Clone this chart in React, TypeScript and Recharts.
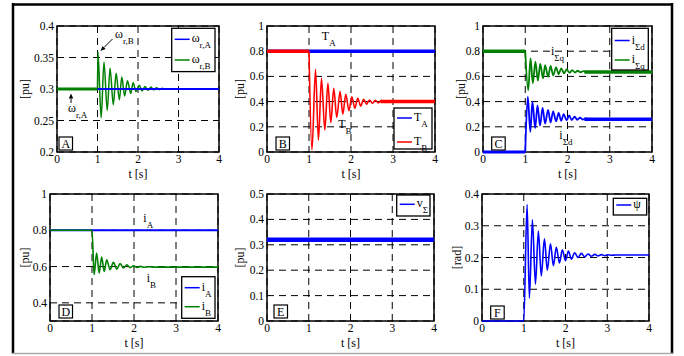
import {
  CartesianGrid,
  Line,
  LineChart,
  ReferenceArea,
  ReferenceDot,
  XAxis,
  YAxis,
} from "recharts";

const FONT = '"Liberation Serif", "Times New Roman", Times, serif';
const BLUE = "#0000ff";
const GREEN = "#008000";
const RED = "#ff0000";

type Pt = [number, number];

const timeTicks = [0, 1, 2, 3, 4];

// A: rotor speeds
const omegaA: Pt[] = [[0, 0.3], [4, 0.3]];
const omegaBPre: Pt[] = [[0, 0.3], [1, 0.3]];
const omegaBOsc: Pt[] = [
  [1, 0.3], [1.01, 0.359], [1.09, 0.254], [1.16, 0.343], [1.24, 0.266], [1.31, 0.333],
  [1.39, 0.275], [1.46, 0.325], [1.54, 0.283], [1.6, 0.319], [1.67, 0.289], [1.74, 0.313],
  [1.82, 0.293], [1.88, 0.31], [1.95, 0.296], [2.03, 0.306], [2.1, 0.297], [2.17, 0.304],
  [2.25, 0.298], [2.32, 0.303], [2.39, 0.2985], [2.46, 0.302], [2.53, 0.299], [2.6, 0.301],
  [2.68, 0.2995], [2.8, 0.3], [4, 0.3],
];

// B: torques
const torqueA: Pt[] = [[0, 0.8], [4, 0.8]];
const torqueBPre: Pt[] = [[0, 0.8], [1, 0.8]];
const torqueBOsc: Pt[] = [
  [1, 0.8], [1.07, 0.016], [1.155, 0.656], [1.225, 0.095], [1.297, 0.585], [1.377, 0.175],
  [1.45, 0.545], [1.52, 0.233], [1.59, 0.505], [1.66, 0.275], [1.74, 0.479], [1.805, 0.3],
  [1.876, 0.458], [1.95, 0.328], [2.02, 0.439], [2.09, 0.347], [2.16, 0.426], [2.23, 0.365],
  [2.3, 0.418], [2.37, 0.38], [2.44, 0.413], [2.51, 0.387], [2.58, 0.41], [2.65, 0.39],
  [2.72, 0.408], [2.79, 0.394], [2.86, 0.405], [2.93, 0.397], [3.0, 0.401],
];
const torqueBPost: Pt[] = [[2.7, 0.4], [4, 0.4]];

// C: sum currents d/q
const iSqPre: Pt[] = [[0, 0.8], [1, 0.8]];
const iSqOsc: Pt[] = [
  [1, 0.8], [1.07, 0.49], [1.125, 0.743], [1.18, 0.545], [1.24, 0.717], [1.3, 0.566],
  [1.355, 0.7], [1.42, 0.585], [1.47, 0.69], [1.54, 0.598], [1.6, 0.683], [1.66, 0.608],
  [1.73, 0.672], [1.79, 0.617], [1.85, 0.664], [1.92, 0.625], [1.98, 0.655], [2.05, 0.628],
  [2.11, 0.65], [2.18, 0.631], [2.24, 0.645], [2.31, 0.633], [2.37, 0.642], [2.44, 0.635],
  [2.5, 0.637],
];
const iSqPost: Pt[] = [[2.4, 0.635], [4, 0.635]];
const iSdPre: Pt[] = [[0, 0], [1, 0]];
const iSdOsc: Pt[] = [
  [1, 0], [1.06, 0.44], [1.12, 0.16], [1.17, 0.4], [1.235, 0.19], [1.29, 0.37],
  [1.35, 0.21], [1.41, 0.35], [1.47, 0.225], [1.54, 0.335], [1.6, 0.235], [1.66, 0.322],
  [1.73, 0.243], [1.79, 0.31], [1.85, 0.248], [1.91, 0.3], [1.98, 0.252], [2.04, 0.29],
  [2.1, 0.254], [2.17, 0.28], [2.23, 0.256], [2.3, 0.272], [2.36, 0.258], [2.43, 0.266],
  [2.5, 0.26],
];
const iSdPost: Pt[] = [[2.4, 0.26], [4, 0.26]];

// D: machine currents
const currentA: Pt[] = [[0, 0.8], [4, 0.8]];
const currentB: Pt[] = [
  [0, 0.8], [1, 0.8], [1.05, 0.555], [1.11, 0.675], [1.17, 0.564], [1.23, 0.653],
  [1.29, 0.573], [1.35, 0.638], [1.43, 0.583], [1.51, 0.623], [1.59, 0.586], [1.67, 0.616],
  [1.75, 0.592], [1.83, 0.61], [1.91, 0.594], [1.99, 0.604], [2.07, 0.595], [2.15, 0.601],
  [2.23, 0.596], [2.35, 0.599], [2.5, 0.597], [4, 0.597],
];

// E: sum voltage
const vSigma: Pt[] = [[0, 0.32], [4, 0.32]];

// F: angle
const psi: Pt[] = [
  [0, 0], [1, 0], [1.08, 0.367], [1.135, 0.072], [1.207, 0.319], [1.28, 0.116],
  [1.35, 0.283], [1.42, 0.142], [1.495, 0.259], [1.565, 0.16], [1.64, 0.243], [1.71, 0.174],
  [1.78, 0.232], [1.855, 0.183], [1.925, 0.224], [2.0, 0.19], [2.07, 0.22], [2.14, 0.195],
  [2.22, 0.215], [2.3, 0.2], [2.38, 0.213], [2.46, 0.202], [2.54, 0.211], [2.62, 0.204],
  [2.7, 0.21], [2.78, 0.205], [2.86, 0.209], [2.94, 0.206], [3.02, 0.2085], [3.1, 0.207],
  [3.2, 0.208], [4, 0.208],
];

type Series = { data: Pt[]; color: string; width: number };
type Ann = { t: number; v: number; main: string; sub: string };
type Arrow = { t: number; v: number; dx: number; dy: number };
type Row = { y: number; color: string; main: string; sub: string };
type PanelCfg = {
  tag: string;
  plot: [number, number, number, number];
  tagPos: [number, number];
  domain: [number, number];
  ticks: number[];
  ylabel: string;
  ylabelGap: number;
  series: Series[];
  anns: Ann[];
  arrows: Arrow[];
  legend: { x: number; y: number; w: number; h: number; rows: Row[] };
};

const ML = 48;
const MR = 10;
const MT = 10;
const MB = 32;

const panels: PanelCfg[] = [
  {
    tag: "A",
    plot: [57, 26, 219, 152],
    tagPos: [59, 137],
    domain: [0.2, 0.4],
    ticks: [0.2, 0.25, 0.3, 0.35, 0.4],
    ylabel: "[pu]",
    ylabelGap: 32,
    series: [
      { data: omegaBOsc, color: GREEN, width: 1.5 },
      { data: omegaA, color: BLUE, width: 2 },
      { data: omegaBPre, color: GREEN, width: 2.8 },
    ],
    anns: [
      { t: 1.432, v: 0.3805, main: "ω", sub: "r,B" },
      { t: 0.272, v: 0.2635, main: "ω", sub: "r,A" },
    ],
    arrows: [
      { t: 1.074, v: 0.3603, dx: 12, dy: -12 },
      { t: 0.346, v: 0.2929, dx: 0, dy: 9.5 },
    ],
    legend: {
      x: 171.7, y: 28.3, w: 43.3, h: 43.3,
      rows: [
        { y: 39.3, color: BLUE, main: "ω", sub: "r,A" },
        { y: 60, color: GREEN, main: "ω", sub: "r,B" },
      ],
    },
  },
  {
    tag: "B",
    plot: [267, 26, 435, 152],
    tagPos: [276, 137],
    domain: [0, 1],
    ticks: [0, 0.2, 0.4, 0.6, 0.8, 1],
    ylabel: "[pu]",
    ylabelGap: 27,
    series: [
      { data: torqueA, color: BLUE, width: 3.5 },
      { data: torqueBPre, color: RED, width: 3.5 },
      { data: torqueBOsc, color: RED, width: 1.6 },
      { data: torqueBPost, color: RED, width: 3.5 },
    ],
    anns: [
      { t: 1.306, v: 0.889, main: "T", sub: "A" },
      { t: 1.694, v: 0.19, main: "T", sub: "B" },
    ],
    arrows: [],
    legend: {
      x: 394, y: 108, w: 38, h: 41,
      rows: [
        { y: 118, color: BLUE, main: "T", sub: "A" },
        { y: 142, color: RED, main: "T", sub: "B" },
      ],
    },
  },
  {
    tag: "C",
    plot: [483, 26, 652, 152],
    tagPos: [491.7, 137],
    domain: [0, 1],
    ticks: [0, 0.2, 0.4, 0.6, 0.8, 1],
    ylabel: "[pu]",
    ylabelGap: 22.5,
    series: [
      { data: iSqPre, color: GREEN, width: 3.5 },
      { data: iSqOsc, color: GREEN, width: 1.8 },
      { data: iSqPost, color: GREEN, width: 3.5 },
      { data: iSdPre, color: BLUE, width: 3 },
      { data: iSdOsc, color: BLUE, width: 1.8 },
      { data: iSdPost, color: BLUE, width: 3.5 },
    ],
    anns: [
      { t: 1.609, v: 0.77, main: "i", sub: "Σq" },
      { t: 1.806, v: 0.101, main: "i", sub: "Σd" },
    ],
    arrows: [],
    legend: {
      x: 611.7, y: 28.3, w: 36.6, h: 41.7,
      rows: [
        { y: 40.5, color: BLUE, main: "i", sub: "Σd" },
        { y: 60, color: GREEN, main: "i", sub: "Σq" },
      ],
    },
  },
  {
    tag: "D",
    plot: [50, 194, 218, 321],
    tagPos: [59, 305],
    domain: [0.3, 1],
    ticks: [0.4, 0.6, 0.8, 1],
    ylabel: "[pu]",
    ylabelGap: 25,
    series: [
      { data: currentA, color: BLUE, width: 2 },
      { data: currentB, color: GREEN, width: 1.6 },
    ],
    anns: [
      { t: 2.221, v: 0.847, main: "i", sub: "A" },
      { t: 2.302, v: 0.517, main: "i", sub: "B" },
    ],
    arrows: [],
    legend: {
      x: 181.7, y: 276.7, w: 33.3, h: 41.6,
      rows: [
        { y: 287.7, color: BLUE, main: "i", sub: "A" },
        { y: 306.7, color: GREEN, main: "i", sub: "B" },
      ],
    },
  },
  {
    tag: "E",
    plot: [267, 194, 434, 321],
    tagPos: [274, 305],
    domain: [0, 0.5],
    ticks: [0, 0.1, 0.2, 0.3, 0.4, 0.5],
    ylabel: "[pu]",
    ylabelGap: 27,
    series: [{ data: vSigma, color: BLUE, width: 4.5 }],
    anns: [],
    arrows: [],
    legend: {
      x: 396.7, y: 195, w: 33.3, h: 21,
      rows: [{ y: 204.3, color: BLUE, main: "v", sub: "Σ" }],
    },
  },
  {
    tag: "F",
    plot: [482, 194, 649, 321],
    tagPos: [490.7, 306],
    domain: [0, 0.4],
    ticks: [0, 0.1, 0.2, 0.3, 0.4],
    ylabel: "[rad]",
    ylabelGap: 25,
    series: [{ data: psi, color: BLUE, width: 1.6 }],
    anns: [],
    arrows: [],
    legend: {
      x: 613.3, y: 198.3, w: 33.4, h: 16.7,
      rows: [{ y: 205, color: BLUE, main: "ψ", sub: "" }],
    },
  },
];

const toRows = (pts: Pt[]) => pts.map(([t, v]) => ({ t, v }));

const tickStyle = { fill: "#000", fontSize: 11.5, fontFamily: FONT };

function annShape(main: string, sub: string) {
  return (p: any) => (
    <text x={p.cx} y={p.cy} fontFamily={FONT} fontSize={12} fill="#000">
      {main}
      <tspan dy={6} fontSize={9}>
        {sub}
      </tspan>
    </text>
  );
}

function arrowShape(dx: number, dy: number) {
  return (p: any) => {
    const { cx, cy } = p;
    const len = Math.hypot(dx, dy);
    const ux = dx / len;
    const uy = dy / len;
    const bx = cx + ux * 5;
    const by = cy + uy * 5;
    const pts = `${cx},${cy} ${bx - uy * 2.2},${by + ux * 2.2} ${bx + uy * 2.2},${by - ux * 2.2}`;
    return (
      <g>
        <line x1={cx + dx} y1={cy + dy} x2={bx} y2={by} stroke="#000" strokeWidth={1} />
        <polygon points={pts} fill="#000" />
      </g>
    );
  };
}

function Panel({ cfg }: { cfg: PanelCfg }) {
  const [x0, y0, x1, y1] = cfg.plot;
  const pw = x1 - x0;
  const ph = y1 - y0;
  const lx = ML - cfg.ylabelGap;
  const ly = MT + ph / 2;
  return (
    <div style={{ position: "absolute", left: x0 - ML, top: y0 - MT }}>
      <LineChart
        width={pw + ML + MR}
        height={ph + MT + MB}
        margin={{ top: MT, right: MR, bottom: 0, left: 0 }}
      >
        <CartesianGrid stroke="#000" strokeDasharray="7 5" strokeWidth={1} />
        <XAxis
          type="number"
          dataKey="t"
          domain={[0, 4]}
          ticks={timeTicks}
          interval={0}
          axisLine={false}
          tickLine={false}
          tickSize={0}
          tickMargin={3}
          height={MB}
          tick={tickStyle}
          label={() => (
            <text x={ML + pw / 2} y={MT + ph + 26} textAnchor="middle" fontSize={12} fontFamily={FONT} fill="#000">
              t [s]
            </text>
          )}
        />
        <YAxis
          type="number"
          domain={cfg.domain}
          ticks={cfg.ticks}
          interval={0}
          axisLine={false}
          tickLine={false}
          tickSize={0}
          tickMargin={3}
          width={ML}
          tick={tickStyle}
          label={() => (
            <text
              x={lx}
              y={ly}
              transform={`rotate(-90 ${lx} ${ly})`}
              textAnchor="middle"
              dominantBaseline="central"
              fontSize={12}
              fontFamily={FONT}
              fill="#000"
            >
              {cfg.ylabel}
            </text>
          )}
        />
        <ReferenceArea
          x1={0}
          x2={4}
          y1={cfg.domain[0]}
          y2={cfg.domain[1]}
          fill="none"
          stroke="#000"
          strokeWidth={1.5}
          ifOverflow="visible"
        />
        {cfg.series.map((s, i) => (
          <Line
            key={i}
            data={toRows(s.data)}
            dataKey="v"
            type="monotone"
            stroke={s.color}
            strokeWidth={s.width}
            dot={false}
            activeDot={false}
            isAnimationActive={false}
          />
        ))}
        {cfg.anns.map((a, i) => (
          <ReferenceDot key={`a${i}`} x={a.t} y={a.v} r={0} ifOverflow="visible" shape={annShape(a.main, a.sub)} />
        ))}
        {cfg.arrows.map((a, i) => (
          <ReferenceDot key={`r${i}`} x={a.t} y={a.v} r={0} ifOverflow="visible" shape={arrowShape(a.dx, a.dy)} />
        ))}
      </LineChart>
    </div>
  );
}

function Overlay() {
  return (
    <svg width={684} height={356} style={{ position: "absolute", left: 0, top: 0, pointerEvents: "none" }}>
      {panels.map((p) => {
        const lg = p.legend;
        return (
          <g key={p.tag}>
            <rect x={lg.x} y={lg.y} width={lg.w} height={lg.h} fill="#fff" stroke="#000" strokeWidth={1.3} />
            {lg.rows.map((r, i) => (
              <g key={i}>
                <line x1={lg.x + 3} x2={lg.x + 18} y1={r.y} y2={r.y} stroke={r.color} strokeWidth={1.5} />
                <text x={lg.x + 20} y={r.y + 3} fontSize={12} fontFamily={FONT} fill="#000">
                  {r.main}
                  <tspan dy={6} fontSize={9}>
                    {r.sub}
                  </tspan>
                </text>
              </g>
            ))}
            <rect x={p.tagPos[0]} y={p.tagPos[1]} width={13.5} height={13} fill="#fff" stroke="#000" strokeWidth={1.2} />
            <text
              x={p.tagPos[0] + 6.75}
              y={p.tagPos[1] + 11}
              textAnchor="middle"
              fontSize={12}
              fontFamily={FONT}
              fill="#000"
            >
              {p.tag}
            </text>
          </g>
        );
      })}
      <line x1={12} x2={673} y1={4.5} y2={4.5} stroke="#000" strokeWidth={2.5} />
      <line x1={13} x2={13} y1={3} y2={354} stroke="#000" strokeWidth={2.5} />
      <line x1={672} x2={672} y1={3} y2={354} stroke="#000" strokeWidth={2.5} />
      <line x1={12} x2={673} y1={353.5} y2={353.5} stroke="#aaa" strokeWidth={1.5} />
    </svg>
  );
}

export default function App() {
  return (
    <div
      style={{
        position: "absolute",
        left: 0,
        top: 0,
        width: 684,
        height: 356,
        background: "#fff",
        overflow: "hidden",
        fontFamily: FONT,
      }}
    >
      {panels.map((p) => (
        <Panel key={p.tag} cfg={p} />
      ))}
      <Overlay />
    </div>
  );
}
